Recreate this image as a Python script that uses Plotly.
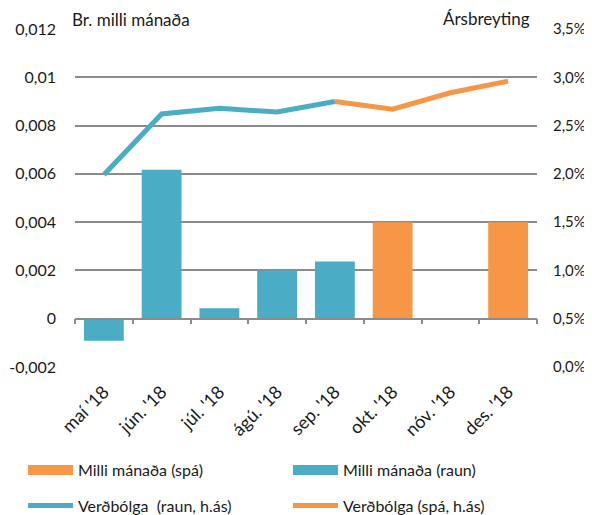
import plotly.graph_objects as go

months = ["maí '18", "jún. '18", "júl. '18", "ágú. '18", "sep. '18", "okt. '18", "nóv. '18", "des. '18"]
bar_raun = [-0.00091, 0.00617, 0.00043, 0.0020, 0.00237, None, None, None]
bar_spa = [None, None, None, None, None, 0.0040, None, 0.0040]
line_raun = [0.0199, 0.0262, 0.0268, 0.0264, 0.0275, None, None, None]
line_spa = [None, None, None, None, 0.0275, 0.0267, 0.0284, 0.0296]

left_ticks = [-0.002, 0, 0.002, 0.004, 0.006, 0.008, 0.01, 0.012]
left_text = ["-0,002", "0", "0,002", "0,004", "0,006", "0,008", "0,01", "0,012"]
right_ticks = [0, 0.005, 0.01, 0.015, 0.02, 0.025, 0.03, 0.035]
right_text = ["0,0%", "0,5%", "1,0%", "1,5%", "2,0%", "2,5%", "3,0%", "3,5%"]

BLUE = "#4BACC6"
ORANGE = "#F79646"
TXT = "#1a1a1a"
GRID = "#8c8c8c"
FONT = "Lato"

fig = go.Figure()
fig.add_trace(go.Bar(x=months, y=bar_spa, name="Milli mánaða (spá)", marker_color=ORANGE,
                     marker_line_width=0, showlegend=False))
fig.add_trace(go.Bar(x=months, y=bar_raun, name="Milli mánaða (raun)", marker_color=BLUE,
                     marker_line_width=0, showlegend=False))
# legend-only entries that look like the wide bar swatches
fig.add_trace(go.Scatter(x=[None], y=[None], name="Milli mánaða (spá)", mode="lines",
                         line=dict(color=ORANGE, width=11), legend="legend", legendrank=1))
fig.add_trace(go.Scatter(x=[None], y=[None], name="Milli mánaða (raun)", mode="lines",
                         line=dict(color=BLUE, width=11), legend="legend", legendrank=2))
fig.add_trace(go.Scatter(x=months, y=line_raun, name="Verðbólga  (raun, h.ás)", yaxis="y2",
                         mode="lines", line=dict(color=BLUE, width=5), legend="legend2",
                         legendrank=3))
fig.add_trace(go.Scatter(x=months, y=line_spa, name="Verðbólga (spá, h.ás)", yaxis="y2",
                         mode="lines", line=dict(color=ORANGE, width=5), legend="legend2",
                         legendrank=4))
# carrier for the category axis drawn along the zero line
fig.add_trace(go.Scatter(x=months, y=[None] * len(months), xaxis="x2", yaxis="y",
                         mode="lines", showlegend=False, hoverinfo="skip"))

ymin, ymax = -0.002, 0.012
zero_pos = (0 - ymin) / (ymax - ymin)

legend_common = dict(orientation="h", xanchor="left", yanchor="middle",
                     entrywidth=205, entrywidthmode="pixels", itemwidth=45,
                     font=dict(size=16, family=FONT, color=TXT), tracegroupgap=0,
                     traceorder="normal", bgcolor="rgba(0,0,0,0)")

fig.update_layout(
    width=584, height=507,
    margin=dict(l=67, r=55, t=21, b=148, autoexpand=False),
    paper_bgcolor="white", plot_bgcolor="white",
    font=dict(family=FONT, size=16, color=TXT),
    barmode="relative", bargap=0.31,
    showlegend=True,
    legend=dict(x=-0.1126, y=-0.305, **legend_common),
    legend2=dict(x=-0.1126, y=-0.41, **legend_common),
    xaxis=dict(type="category", categoryorder="array", categoryarray=months,
               showgrid=False, showline=False, ticks="", tickangle=-45,
               ticklabelstandoff=10,
               tickfont=dict(size=18, family=FONT, color=TXT), range=[-0.5, 7.5]),
    xaxis2=dict(matches="x", overlaying="x", anchor="free", position=zero_pos,
                showticklabels=False, ticks="outside", tickson="boundaries",
                ticklen=5, tickcolor=GRID, tickwidth=1.5,
                showline=True, linecolor=GRID, linewidth=1.5, showgrid=False,
                type="category", categoryorder="array", categoryarray=months),
    yaxis=dict(range=[ymin, ymax], tickvals=left_ticks, ticktext=left_text,
               showgrid=True, gridcolor=GRID, gridwidth=1.5, zeroline=False,
               showline=False, ticks="", ticklabelstandoff=18,
               tickfont=dict(size=16, family=FONT, color=TXT)),
    yaxis2=dict(range=[0, 0.035], tickvals=right_ticks, ticktext=right_text, overlaying="y",
                side="right", showgrid=False, zeroline=False, showline=False, ticks="",
                ticklabelstandoff=15, tickfont=dict(size=15, family=FONT, color=TXT)),
    annotations=[
        dict(text="Br. milli mánaða", xref="paper", yref="paper", x=0.0, y=1.0,
             xanchor="left", yanchor="bottom", xshift=-5, yshift=-3, showarrow=False,
             font=dict(size=17, family=FONT, color=TXT)),
        dict(text="Ársbreyting", xref="paper", yref="paper", x=0.99, y=1.0,
             xanchor="right", yanchor="bottom", yshift=-2, showarrow=False,
             font=dict(size=17, family=FONT, color=TXT)),
    ],
)

fig.write_html("out.html")
